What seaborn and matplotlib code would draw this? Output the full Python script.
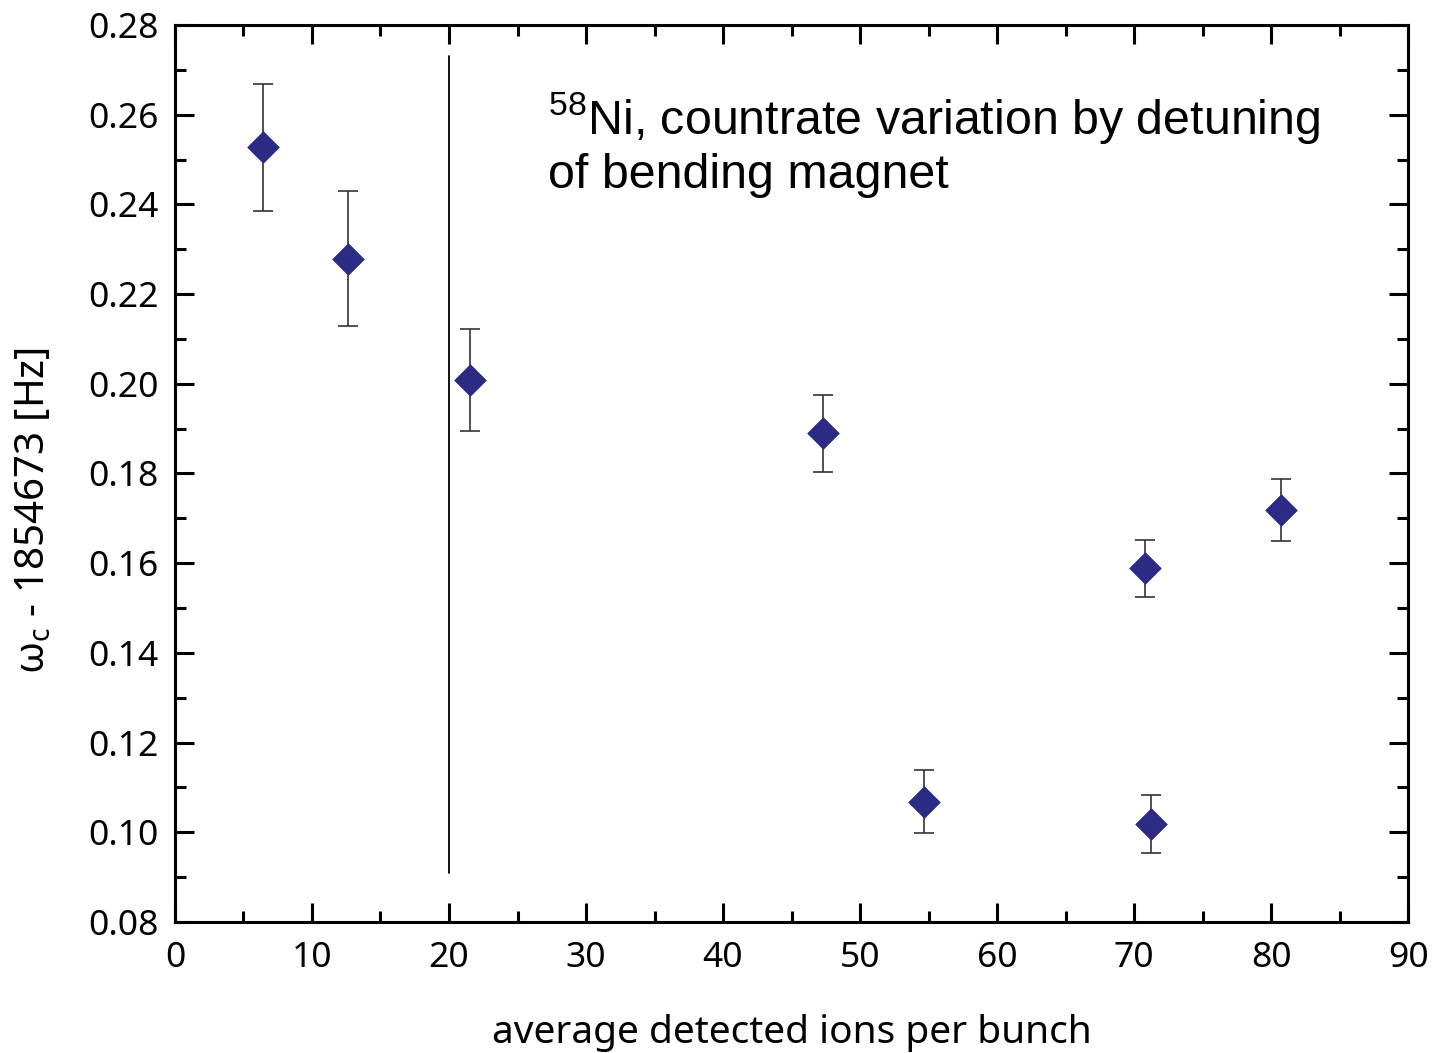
import matplotlib
matplotlib.use("Agg")
import matplotlib.pyplot as plt
import seaborn as sns
import pandas as pd
from matplotlib.ticker import MultipleLocator

# Data
ions = [6.4, 12.6, 21.5, 47.3, 54.7, 71.2, 70.8, 80.7]
freq = [0.2528, 0.2278, 0.2008, 0.1890, 0.1068, 0.1019, 0.1589, 0.1719]
err_low = [0.0143, 0.0149, 0.0113, 0.0087, 0.0070, 0.0065, 0.0064, 0.0069]
err_high = [0.0140, 0.0152, 0.0114, 0.0085, 0.0071, 0.0064, 0.0063, 0.0069]
xlim = (0, 90)
ylim = (0.08, 0.28)
divider_x = 20
divider_y = (0.091, 0.273)

df = pd.DataFrame({"ions": ions, "freq": freq})

sns.set_theme(style="ticks")
plt.rcParams["font.family"] = ["Noto Sans", "DejaVu Sans"]
plt.rcParams["mathtext.fontset"] = "custom"
plt.rcParams["mathtext.rm"] = "Liberation Sans"

fig = plt.figure(figsize=(14.34, 10.53), dpi=100)
ax = fig.add_axes([0.122, 0.1244, 0.860, 0.8519])

ax.errorbar(ions, freq, yerr=[err_low, err_high], fmt="none",
            ecolor="#333333", elinewidth=1.2, capsize=7.5, capthick=1.2, zorder=2)
sns.scatterplot(data=df, x="ions", y="freq", marker="D", s=260,
                color="#2b2a85", edgecolor="#2b2a85", linewidth=0.5, ax=ax, zorder=3)

ax.plot([divider_x, divider_x], list(divider_y), color="black", lw=1.3, zorder=1)

ax.set_xlim(*xlim)
ax.set_ylim(*ylim)
ax.xaxis.set_major_locator(MultipleLocator(10))
ax.xaxis.set_minor_locator(MultipleLocator(5))
ax.yaxis.set_major_locator(MultipleLocator(0.02))
ax.yaxis.set_minor_locator(MultipleLocator(0.01))
ax.yaxis.set_major_formatter(matplotlib.ticker.FormatStrFormatter("%.2f"))

for s in ax.spines.values():
    s.set_visible(True)
    s.set_linewidth(2.2)
    s.set_color("black")
ax.tick_params(which="both", direction="in", top=True, right=True,
               width=2.2, color="black", labelsize=25.5, labelcolor="black")
ax.tick_params(axis="x", which="both", pad=14)
ax.tick_params(axis="y", which="both", pad=12)
ax.tick_params(which="major", length=14)
ax.tick_params(which="minor", length=8)

ax.set_xlabel("average detected ions per bunch", fontsize=28, labelpad=28, color="black")
ax.set_ylabel("ω$_\\mathregular{c}$ - 1854673 [Hz]", fontsize=29, labelpad=24, color="black")
ax.yaxis.label.set_y(0.459)

ax.text(27.2, 0.2655, r"$^{58}$Ni, countrate variation by detuning" + "\nof bending magnet",
        fontsize=34.8, family=["Liberation Sans", "DejaVu Sans"], color="black",
        va="top", ha="left", linespacing=1.2)

fig.savefig("out.png", dpi=100, facecolor="white")
